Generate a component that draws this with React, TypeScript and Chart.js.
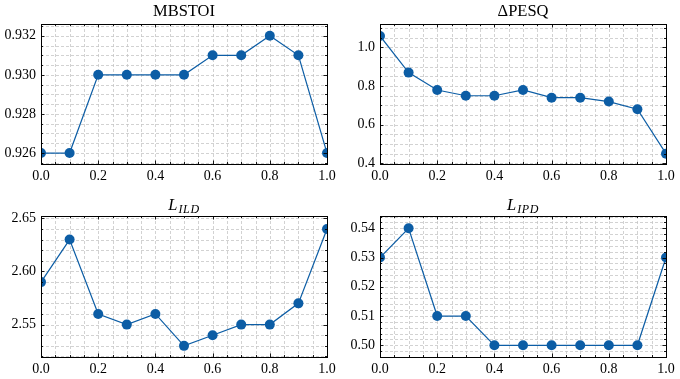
import React, { useEffect, useRef } from "react";
import { Chart, registerables } from "chart.js";

Chart.register(...registerables);

// ---- data ----
const xValues = [0, 0.1, 0.2, 0.3, 0.4, 0.5, 0.6, 0.7, 0.8, 0.9, 1.0];
const mbstoiValues = [0.926, 0.926, 0.93, 0.93, 0.93, 0.93, 0.931, 0.931, 0.932, 0.931, 0.926];
const pesqValues = [1.06, 0.87, 0.78, 0.75, 0.75, 0.78, 0.74, 0.74, 0.72, 0.68, 0.45];
const ildValues = [2.59, 2.63, 2.56, 2.55, 2.56, 2.53, 2.54, 2.55, 2.55, 2.57, 2.64];
const ipdValues = [0.53, 0.54, 0.51, 0.51, 0.5, 0.5, 0.5, 0.5, 0.5, 0.5, 0.53];

const xRange = [0, 1];
const xTickSteps = [0.2, 0.05]; // major, minor
const xDecimals = 1;

const LINE_COLOR = "#0C5DA5";
const FONT = "'Liberation Serif', 'DejaVu Serif', serif";
const W = 680;
const H = 379;
const Y_AXIS_W = 41;
const X_AXIS_H = 26;

type Panel = {
  key: string;
  title: React.ReactNode;
  values: number[];
  yRange: number[];
  ySteps: number[];
  yDecimals: number;
  area: { left: number; top: number; right: number; bottom: number };
  titleBaseline: number;
};

const subStyle: React.CSSProperties = {
  fontSize: 12,
  fontStyle: "italic",
  verticalAlign: "-3px",
  lineHeight: 0,
  letterSpacing: "0.6px",
  marginLeft: 1,
};

const panels: Panel[] = [
  {
    key: "mbstoi",
    title: <span>MBSTOI</span>,
    values: mbstoiValues,
    yRange: [0.92544, 0.9326],
    ySteps: [0.002, 0.0005],
    yDecimals: 3,
    area: { left: 41, top: 24, right: 327, bottom: 164 },
    titleBaseline: 16.5,
  },
  {
    key: "pesq",
    title: <span>ΔPESQ</span>,
    values: pesqValues,
    yRange: [0.3965, 1.1217],
    ySteps: [0.2, 0.05],
    yDecimals: 1,
    area: { left: 380, top: 24, right: 666, bottom: 164 },
    titleBaseline: 16.5,
  },
  {
    key: "ild",
    title: (
      <span>
        <i>L</i>
        <sub style={subStyle}>ILD</sub>
      </span>
    ),
    values: ildValues,
    yRange: [2.5195, 2.6522],
    ySteps: [0.05, 0.01],
    yDecimals: 2,
    area: { left: 41, top: 216, right: 327, bottom: 357 },
    titleBaseline: 210.5,
  },
  {
    key: "ipd",
    title: (
      <span>
        <i>L</i>
        <sub style={subStyle}>IPD</sub>
      </span>
    ),
    values: ipdValues,
    yRange: [0.496, 0.5442],
    ySteps: [0.01, 0.002],
    yDecimals: 2,
    area: { left: 380, top: 216, right: 666, bottom: 357 },
    titleBaseline: 210.5,
  },
];

function buildTicks(min: number, max: number, major: number, minor: number) {
  const ratio = Math.round(major / minor);
  const k0 = Math.ceil(min / minor - 1e-9);
  const k1 = Math.floor(max / minor + 1e-9);
  const ticks: { value: number; major: boolean }[] = [];
  for (let k = k0; k <= k1; k++) {
    ticks.push({ value: k * minor, major: ((k % ratio) + ratio) % ratio === 0 });
  }
  return ticks;
}

function isMajor(v: number, major: number) {
  const r = v / major;
  return Math.abs(r - Math.round(r)) < 1e-6;
}

const framePlugin = {
  id: "frameTicks",
  beforeDatasetsDraw(chart: any) {
    const { ctx, chartArea } = chart;
    const { left, right, top, bottom } = chartArea;
    ctx.save();
    ctx.strokeStyle = "#c6c6c6";
    ctx.lineWidth = 0.8;
    ctx.setLineDash([3, 2]);
    const xs = chart.scales.x;
    const ys = chart.scales.y;
    xs.ticks.forEach((t: any) => {
      const px = Math.round(xs.getPixelForValue(t.value)) + 0.5;
      ctx.beginPath();
      ctx.moveTo(px, top);
      ctx.lineTo(px, bottom);
      ctx.stroke();
    });
    ys.ticks.forEach((t: any) => {
      const py = Math.round(ys.getPixelForValue(t.value)) + 0.5;
      ctx.beginPath();
      ctx.moveTo(left, py);
      ctx.lineTo(right, py);
      ctx.stroke();
    });
    ctx.restore();
  },
  afterDatasetsDraw(chart: any) {
    const { ctx, chartArea } = chart;
    const { left, right, top, bottom } = chartArea;
    const xs = chart.scales.x;
    const ys = chart.scales.y;
    const xMajor = chart.options.plugins.frameTicks.xMajor;
    const yMajor = chart.options.plugins.frameTicks.yMajor;
    ctx.save();
    ctx.strokeStyle = "#000";
    ctx.lineWidth = 0.9;
    xs.ticks.forEach((t: any) => {
      const len = isMajor(t.value, xMajor) ? 3.5 : 2;
      const px = Math.round(xs.getPixelForValue(t.value)) + 0.5;
      ctx.beginPath();
      ctx.moveTo(px, bottom);
      ctx.lineTo(px, bottom - len);
      ctx.moveTo(px, top);
      ctx.lineTo(px, top + len);
      ctx.stroke();
    });
    ys.ticks.forEach((t: any) => {
      const len = isMajor(t.value, yMajor) ? 3.5 : 2;
      const py = Math.round(ys.getPixelForValue(t.value)) + 0.5;
      ctx.beginPath();
      ctx.moveTo(left, py);
      ctx.lineTo(left + len, py);
      ctx.moveTo(right, py);
      ctx.lineTo(right - len, py);
      ctx.stroke();
    });
    ctx.lineWidth = 1;
    ctx.strokeRect(Math.round(left) + 0.5, Math.round(top) + 0.5, Math.round(right - left), Math.round(bottom - top));
    ctx.restore();
  },
};

function PanelChart({ p }: { p: Panel }) {
  const ref = useRef<HTMLCanvasElement>(null);
  useEffect(() => {
    if (!ref.current) return;
    const data = xValues.map((x, i) => ({ x, y: p.values[i] }));
    const chart = new Chart(ref.current, {
      type: "line",
      data: {
        datasets: [
          {
            data,
            borderColor: LINE_COLOR,
            backgroundColor: LINE_COLOR,
            borderWidth: 1.2,
            pointRadius: 5,
            pointBorderWidth: 0,
            pointBackgroundColor: LINE_COLOR,
            tension: 0,
            fill: false,
            clip: 0,
          } as any,
        ],
      },
      plugins: [framePlugin as any],
      options: {
        animation: false,
        responsive: false,
        maintainAspectRatio: false,
        events: [],
        layout: {
          padding: {
            left: p.area.left - Y_AXIS_W,
            top: p.area.top,
            right: W - p.area.right,
            bottom: H - p.area.bottom - X_AXIS_H,
          },
        },
        plugins: {
          legend: { display: false },
          tooltip: { enabled: false },
          title: { display: false },
          frameTicks: { xMajor: xTickSteps[0], yMajor: p.ySteps[0] },
        } as any,
        scales: {
          x: {
            type: "linear",
            min: xRange[0],
            max: xRange[1],
            grid: { display: false, drawTicks: false },
            border: { display: false },
            afterBuildTicks: (scale: any) => {
              scale.ticks = buildTicks(xRange[0], xRange[1], xTickSteps[0], xTickSteps[1]);
            },
            afterFit: (scale: any) => {
              scale.height = X_AXIS_H;
              scale.paddingLeft = 0;
              scale.paddingRight = 0;
              scale.paddingTop = 0;
              scale.paddingBottom = 0;
            },
            ticks: {
              autoSkip: false,
              maxRotation: 0,
              minRotation: 0,
              padding: 4,
              color: "#000",
              font: { family: FONT, size: 14 },
              callback: (v: any) => (isMajor(Number(v), xTickSteps[0]) ? Number(v).toFixed(xDecimals) : ""),
            },
          },
          y: {
            type: "linear",
            min: p.yRange[0],
            max: p.yRange[1],
            grid: { display: false, drawTicks: false },
            border: { display: false },
            afterBuildTicks: (scale: any) => {
              scale.ticks = buildTicks(p.yRange[0], p.yRange[1], p.ySteps[0], p.ySteps[1]);
            },
            afterFit: (scale: any) => {
              scale.width = Y_AXIS_W;
              scale.paddingLeft = 0;
              scale.paddingRight = 0;
              scale.paddingTop = 0;
              scale.paddingBottom = 0;
            },
            ticks: {
              autoSkip: false,
              padding: 5,
              color: "#000",
              font: { family: FONT, size: 14 },
              callback: (v: any) => (isMajor(Number(v), p.ySteps[0]) ? Number(v).toFixed(p.yDecimals) : ""),
            },
          },
        },
      } as any,
    });
    return () => chart.destroy();
  }, [p]);
  return (
    <canvas
      ref={ref}
      width={W}
      height={H}
      style={{ position: "absolute", left: 0, top: 0, width: W, height: H }}
    />
  );
}

export default function App() {
  return (
    <div
      style={{
        position: "absolute",
        left: 0,
        top: 0,
        width: W,
        height: H,
        overflow: "hidden",
        background: "#fff",
        fontFamily: FONT,
      }}
    >
      {panels.map((p) => (
        <PanelChart key={p.key} p={p} />
      ))}
      {panels.map((p) => {
        const cx = (p.area.left + p.area.right) / 2;
        return (
          <div
            key={p.key + "-title"}
            style={{
              position: "absolute",
              left: cx - 100,
              width: 200,
              top: p.titleBaseline - 13.4,
              height: 16,
              lineHeight: "16px",
              fontSize: 16.5,
              textAlign: "center",
              color: "#000",
              whiteSpace: "nowrap",
            }}
          >
            {p.title}
          </div>
        );
      })}
    </div>
  );
}
